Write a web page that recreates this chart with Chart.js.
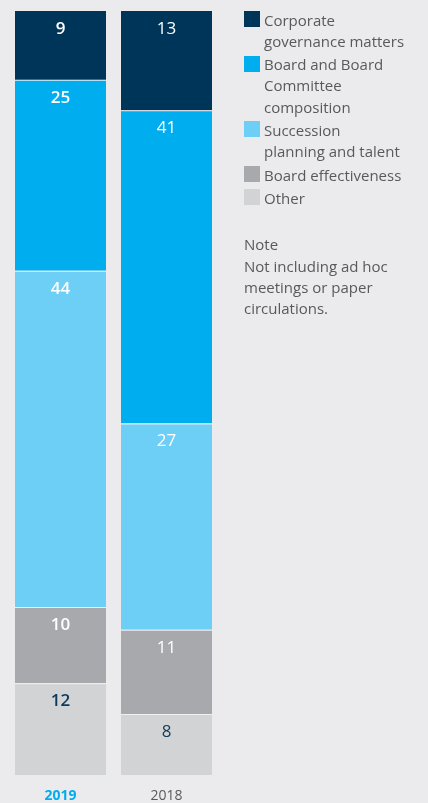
<!DOCTYPE html>
<html>
<head>
<meta charset="utf-8">
<script src="https://cdn.jsdelivr.net/npm/chart.js@4"></script>
<style>
  html, body { margin: 0; padding: 0; background: #ebebed; }
  body { width: 428px; height: 803px; position: relative; overflow: hidden; font-family: "Open Sans", sans-serif; }
  #wrap { position: absolute; left: 0; top: 0; width: 428px; height: 803px; }
  #legend { position: absolute; left: 244px; top: 9.5px; font-size: 15px; line-height: 21.3px; color: #58595b; }
  .item { display: flex; align-items: flex-start; margin-bottom: 2px; }
  .sw { width: 16px; height: 16px; margin-top: 1.5px; margin-right: 4px; flex: none; }
  #note { position: absolute; left: 244px; top: 234.4px; font-size: 15px; line-height: 21.3px; color: #58595b; }
</style>
</head>
<body>
<div id="wrap"><canvas id="c" width="428" height="803"></canvas></div>
<div id="legend"></div>
<div id="note">Note<br>Not including ad hoc<br>meetings or paper<br>circulations.</div>
<script>
const categories = ['2019', '2018'];
const corporateGovernance = [9, 13];
const boardComposition = [25, 41];
const succession = [44, 27];
const boardEffectiveness = [10, 11];
const other = [12, 8];

const legendItems = [
  { lines: ['Corporate', 'governance matters'], color: '#00355a' },
  { lines: ['Board and Board', 'Committee', 'composition'], color: '#00aeef' },
  { lines: ['Succession', 'planning and talent'], color: '#6dcff6' },
  { lines: ['Board effectiveness'], color: '#a7a9ac' },
  { lines: ['Other'], color: '#d1d3d4' }
];

const lg = document.getElementById('legend');
legendItems.forEach(it => {
  const d = document.createElement('div'); d.className = 'item';
  const s = document.createElement('div'); s.className = 'sw'; s.style.background = it.color;
  const t = document.createElement('div'); t.innerHTML = it.lines.join('<br>');
  d.appendChild(s); d.appendChild(t); lg.appendChild(d);
});

const sep = 'rgba(240,241,243,0.9)';
function ds(label, data, color, labelColor, top) {
  return {
    label, data, backgroundColor: color,
    borderColor: sep,
    borderWidth: top ? 0 : { top: 1, bottom: 0, left: 0, right: 0 },
    borderSkipped: false,
    labelColor,
    barPercentage: 1,
    categoryPercentage: 91 / 106
  };
}

const valueLabels = {
  id: 'valueLabels',
  afterDatasetsDraw(chart) {
    const ctx = chart.ctx;
    ctx.save();
    ctx.textAlign = 'center';
    ctx.textBaseline = 'middle';
    chart.data.datasets.forEach((d, i) => {
      const meta = chart.getDatasetMeta(i);
      meta.data.forEach((el, j) => {
        const bold = j === 0;
        ctx.font = (bold ? '600 ' : '400 ') + '17px "Open Sans"';
        ctx.fillStyle = d.labelColor;
        ctx.fillText(String(d.data[j]), el.x, el.y + 18);
      });
    });
    ctx.restore();
  }
};

new Chart(document.getElementById('c'), {
  type: 'bar',
  data: {
    labels: categories,
    datasets: [
      ds('Other', other, '#d1d3d4', '#0d3a5c', false),
      ds('Board effectiveness', boardEffectiveness, '#a7a9ac', '#ffffff', false),
      ds('Succession planning and talent', succession, '#6dcff6', '#ffffff', false),
      ds('Board and Board Committee composition', boardComposition, '#00aeef', '#ffffff', false),
      ds('Corporate governance matters', corporateGovernance, '#00355a', '#ffffff', true)
    ]
  },
  options: {
    responsive: false,
    animation: false,
    devicePixelRatio: 1,
    layout: { padding: { left: 7.5, right: 208.5, top: 11, bottom: 0 } },
    plugins: { legend: { display: false }, tooltip: { enabled: false } },
    scales: {
      x: {
        stacked: true,
        grid: { display: false },
        border: { display: false },
        afterFit: (scale) => { scale.height = 28; },
        ticks: {
          padding: 5,
          color: (c) => c.index === 0 ? '#00aeef' : '#58595b',
          font: (c) => ({ family: 'Open Sans', size: 14, weight: c.index === 0 ? '700' : '400', lineHeight: 1.1 })
        }
      },
      y: {
        stacked: true,
        min: 0, max: 100,
        display: false
      }
    }
  },
  plugins: [valueLabels]
});
</script>
</body>
</html>
